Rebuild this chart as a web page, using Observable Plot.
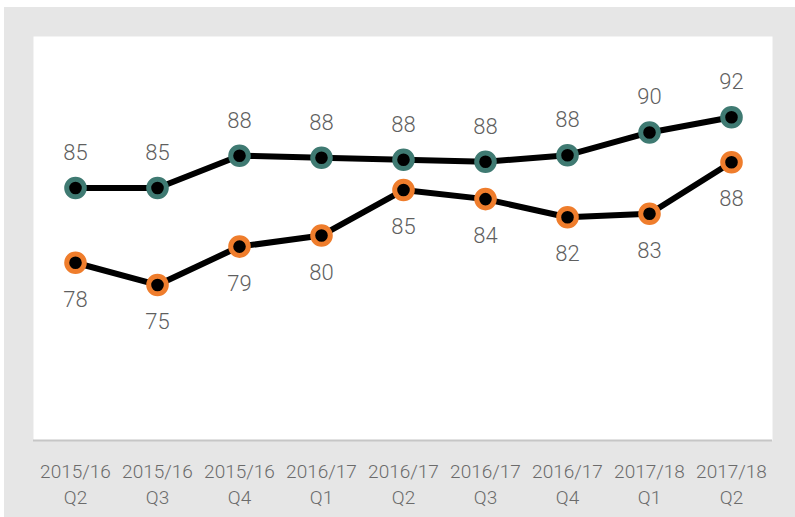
<!DOCTYPE html>
<html>
<head>
<meta charset="utf-8">
<script src="https://cdn.jsdelivr.net/npm/d3@7"></script>
<script src="https://cdn.jsdelivr.net/npm/@observablehq/plot@0.6"></script>
<style>
  html, body { margin: 0; padding: 0; background: #ffffff; }
  #wrap { position: absolute; left: 4px; top: 7px; width: 791px; height: 510px; background: #e6e6e6; }
</style>
</head>
<body>
<div id="wrap"></div>
<script>
const quarters = ["2015/16\nQ2", "2015/16\nQ3", "2015/16\nQ4", "2016/17\nQ1", "2016/17\nQ2", "2016/17\nQ3", "2016/17\nQ4", "2017/18\nQ1", "2017/18\nQ2"];
const tealValues = [85.0, 85.0, 88.2, 88.0, 87.8, 87.6, 88.25, 90.5, 92.0];
const tealLabels = ["85", "85", "88", "88", "88", "88", "88", "90", "92"];
const orangeValues = [77.6, 75.4, 79.2, 80.3, 84.8, 83.9, 82.1, 82.45, 87.55];
const orangeLabels = ["78", "75", "79", "80", "85", "84", "82", "83", "88"];

const teal = quarters.map((q, i) => ({q, v: tealValues[i], label: tealLabels[i]}));
const orange = quarters.map((q, i) => ({q, v: orangeValues[i], label: orangeLabels[i]}));

const FONT = "Roboto, Lato, sans-serif";

const chart = Plot.plot({
  width: 791,
  height: 510,
  marginLeft: 29,
  marginRight: 23,
  marginTop: 29,
  marginBottom: 77,
  style: {background: "#e6e6e6", fontFamily: FONT, fontWeight: 300},
  x: {type: "point", domain: quarters, padding: 0.5, label: null},
  y: {domain: [60, 100], axis: null},
  marks: [
    Plot.frame({fill: "white", stroke: "none"}),
    Plot.ruleY([60], {stroke: "#c6c6c6", strokeWidth: 2}),
    Plot.axisX({label: null, tickSize: 0, tickPadding: 19, fontSize: 19, lineHeight: 1.37, fill: "#6b6b6b", stroke: "none"}),
    Plot.line(teal, {x: "q", y: "v", stroke: "black", strokeWidth: 6}),
    Plot.line(orange, {x: "q", y: "v", stroke: "black", strokeWidth: 6}),
    Plot.dot(teal, {x: "q", y: "v", r: 8.8, fill: "black", stroke: "#3f7a72", strokeWidth: 5}),
    Plot.dot(orange, {x: "q", y: "v", r: 8.8, fill: "black", stroke: "#ef7d2c", strokeWidth: 5}),
    Plot.text(teal, {x: "q", y: "v", text: "label", dy: -35, fontSize: 22, fill: "#5f5f5f"}),
    Plot.text(orange, {x: "q", y: "v", text: "label", dy: 37, fontSize: 22, fill: "#5f5f5f"})
  ]
});
document.getElementById("wrap").appendChild(chart);
</script>
</body>
</html>
